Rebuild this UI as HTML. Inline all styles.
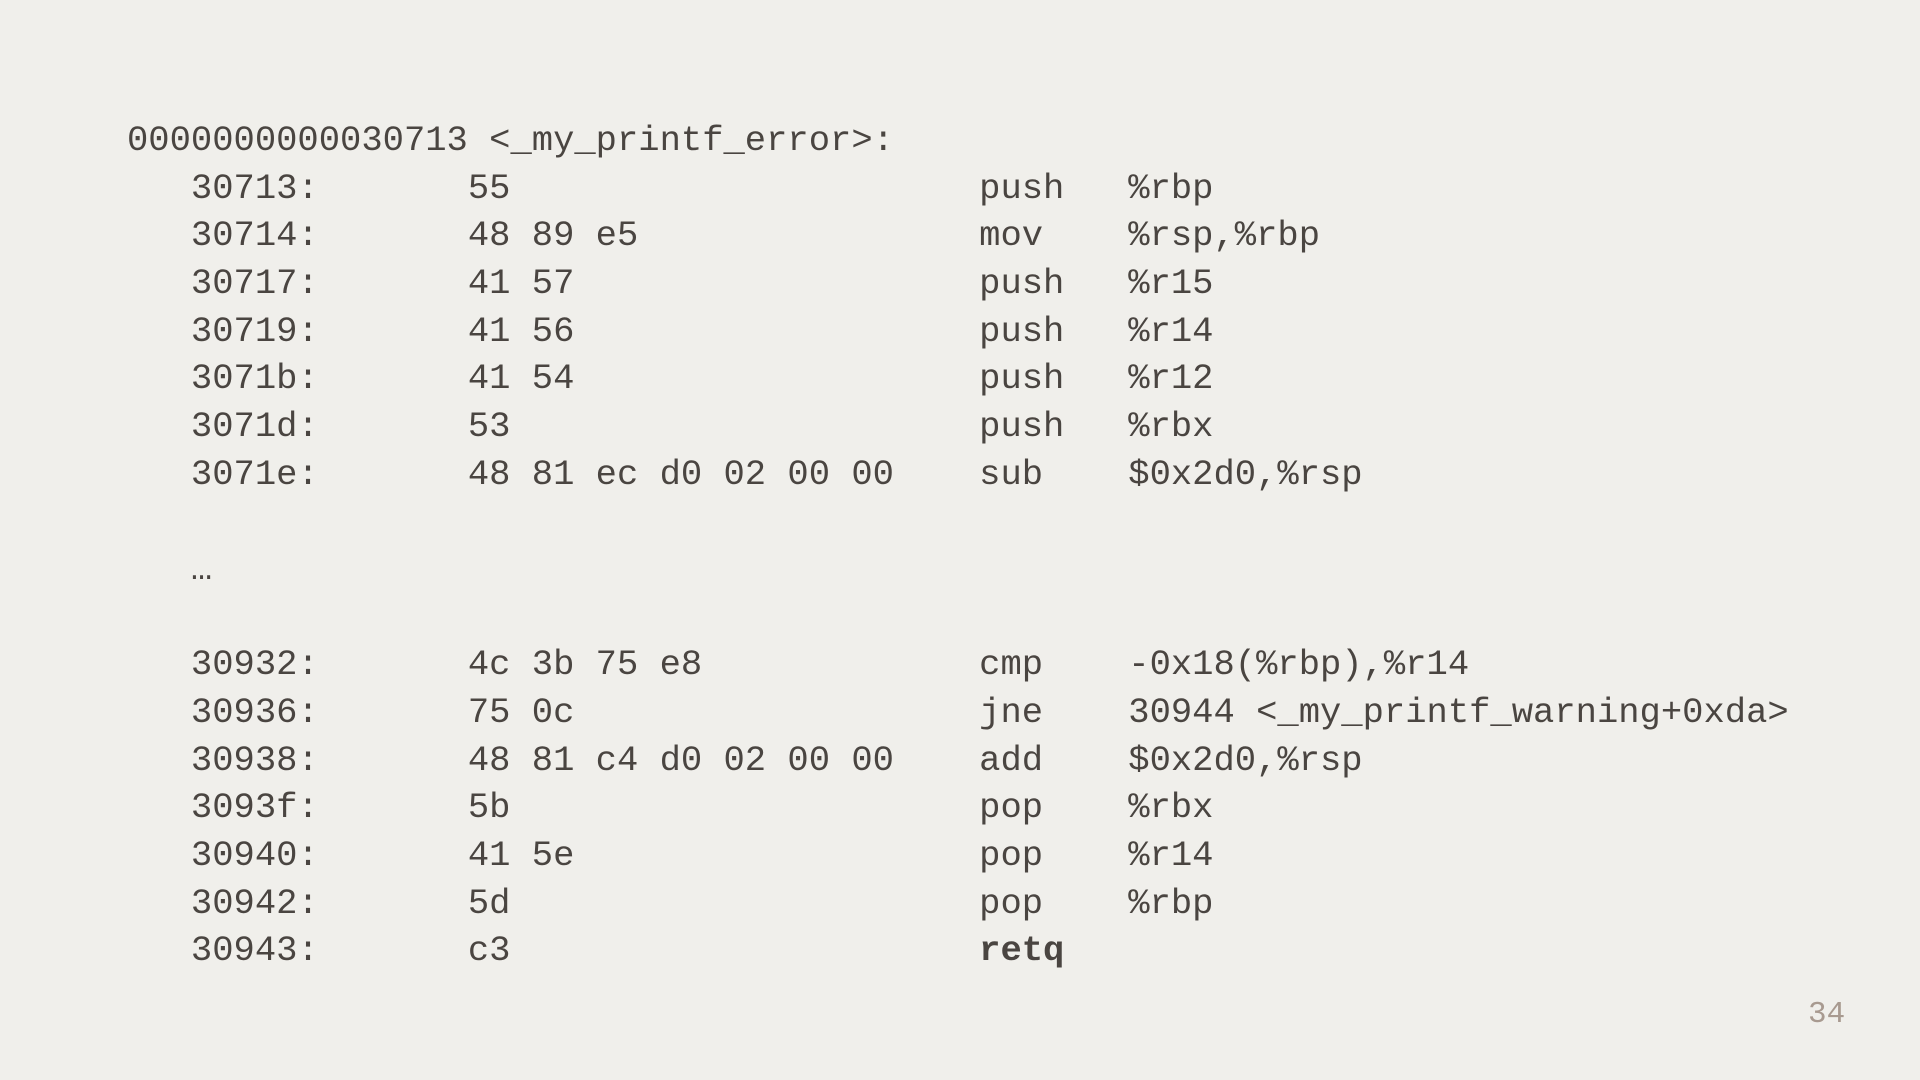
<!DOCTYPE html>
<html><head><meta charset="utf-8"><style>
html,body{margin:0;padding:0;}
body{width:1920px;height:1080px;background:#f0efeb;position:relative;overflow:hidden;}
pre{position:absolute;left:127px;top:117px;margin:0;font-family:"Liberation Mono","DejaVu Sans Mono",monospace;font-size:35.5px;line-height:47.66px;color:#4a4541;}
.pg{position:absolute;left:1808px;top:997px;font-family:"Liberation Mono",monospace;font-size:31px;color:#a89a90;}
b{font-weight:bold;}
</style></head><body>
<pre>0000000000030713 &lt;_my_printf_error&gt;:
   30713:       55                      push   %rbp
   30714:       48 89 e5                mov    %rsp,%rbp
   30717:       41 57                   push   %r15
   30719:       41 56                   push   %r14
   3071b:       41 54                   push   %r12
   3071d:       53                      push   %rbx
   3071e:       48 81 ec d0 02 00 00    sub    $0x2d0,%rsp

   …

   30932:       4c 3b 75 e8             cmp    -0x18(%rbp),%r14
   30936:       75 0c                   jne    30944 &lt;_my_printf_warning+0xda&gt;
   30938:       48 81 c4 d0 02 00 00    add    $0x2d0,%rsp
   3093f:       5b                      pop    %rbx
   30940:       41 5e                   pop    %r14
   30942:       5d                      pop    %rbp
   30943:       c3                      <b>retq</b></pre>
<div class="pg">34</div>
</body></html>
